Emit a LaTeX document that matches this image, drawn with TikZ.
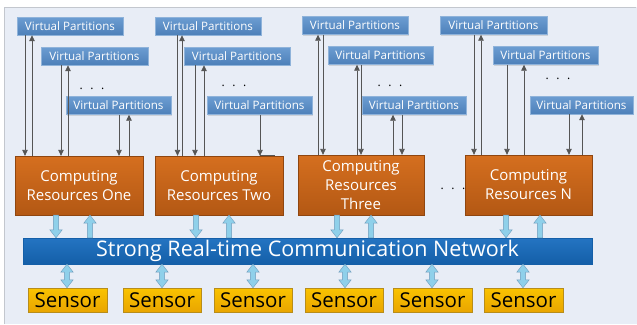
\documentclass[tikz,border=0pt]{standalone}
\usepackage{fontspec}
\setmainfont{Open Sans}
\usetikzlibrary{arrows.meta,shadows,calc}

\definecolor{bgfill}{HTML}{E8EDF6}
\definecolor{frameline}{HTML}{C3C7CE}
\definecolor{vptop}{HTML}{6C9DD2}
\definecolor{vpbot}{HTML}{4D80B9}
\definecolor{vpline}{HTML}{8FB3DA}
\definecolor{crtop}{HTML}{D56F1F}
\definecolor{crbot}{HTML}{B35814}
\definecolor{nettop}{HTML}{2474C2}
\definecolor{netbot}{HTML}{145FA8}
\definecolor{sntop}{HTML}{FAC300}
\definecolor{snbot}{HTML}{E9A500}
\definecolor{snline}{HTML}{B88D1A}
\definecolor{fatfill}{HTML}{8FD0EA}
\definecolor{fatline}{HTML}{6E9CBC}
\definecolor{wire}{HTML}{555555}

\tikzset{
  boxshadow/.style={drop shadow={opacity=0.25,shadow xshift=1.2pt,shadow yshift=-1.2pt}},
  vpbox/.style={boxshadow, top color=vptop, bottom color=vpbot, draw=vpline, line width=0.4pt,
    text=white, font=\fontsize{11.6}{12}\selectfont, inner sep=0pt, minimum height=18pt},
  crbox/.style={boxshadow, top color=crtop, bottom color=crbot, draw=crbot!80!black, line width=0.3pt,
    text=white, font=\fontsize{15}{19}\selectfont, align=center, inner sep=0pt},
  netbox/.style={boxshadow, top color=nettop, bottom color=netbot, draw=netbot, line width=0.3pt,
    text=white, font=\fontsize{21.5}{24}\selectfont, inner sep=0pt},
  snbox/.style={boxshadow, top color=sntop, bottom color=snbot, draw=snline, line width=0.4pt,
    text=black, font=\fontsize{20.5}{22}\selectfont, inner sep=0pt, minimum height=24pt},
  wirearrow/.style={draw=wire, line width=0.8pt, -{Triangle[width=5.5pt,length=6pt]}},
  wireline/.style={draw=wire, line width=0.8pt},
  fatshape/.style={fill=fatfill, draw=fatline, line width=0.4pt},
  dotstext/.style={font=\fontsize{12}{12}\selectfont, text=black, inner sep=0pt}
}

% fat vertical arrow with its head at the second point
\newcommand\fatone[2]{%
  \path[fatshape] let \p1=(#1), \p2=(#2), \n1={sign(\y2-\y1)} in
    (\x1-2.6pt,\y1) -- (\x1-2.6pt,\y2-\n1*8pt) -- (\x1-6.2pt,\y2-\n1*8pt) -- (\x1,\y2)
    -- (\x1+6.2pt,\y2-\n1*8pt) -- (\x1+2.6pt,\y2-\n1*8pt) -- (\x1+2.6pt,\y1) -- cycle;}
% fat vertical arrow with heads at both points
\newcommand\fattwo[2]{%
  \path[fatshape] let \p1=(#1), \p2=(#2), \n1={sign(\y2-\y1)} in
    (\x1,\y1) -- (\x1+6.2pt,\y1+\n1*8pt) -- (\x1+2.6pt,\y1+\n1*8pt)
    -- (\x1+2.6pt,\y2-\n1*8pt) -- (\x1+6.2pt,\y2-\n1*8pt) -- (\x1,\y2)
    -- (\x1-6.2pt,\y2-\n1*8pt) -- (\x1-2.6pt,\y2-\n1*8pt)
    -- (\x1-2.6pt,\y1+\n1*8pt) -- (\x1-6.2pt,\y1+\n1*8pt) -- cycle;}

\newcommand\threedots{.\hspace{7.5pt}.\hspace{7.5pt}.}

\begin{document}
\begin{tikzpicture}[x=1pt,y=-1pt]
  % canvas
  \useasboundingbox (0,0) rectangle (637,324);
  \fill[white] (0,0) rectangle (637,324);
  \fill[bgfill] (4,7) rectangle (637,324);
  \draw[frameline, line width=0.8pt] (4,324) -- (4,7) -- (636,7);

  % virtual partitions
  \node[vpbox, minimum width=106pt] (v1a) at (70,26)    {Virtual Partitions};
  \node[vpbox, minimum width=107pt] (v1b) at (94.5,56)  {Virtual Partitions};
  \node[vpbox, minimum width=105pt] (v1c) at (118.5,105.5) {Virtual Partitions};
  \node[vpbox, minimum width=106pt] (v2a) at (208,26)   {Virtual Partitions};
  \node[vpbox, minimum width=106pt] (v2b) at (237,56)   {Virtual Partitions};
  \node[vpbox, minimum width=105pt] (v2c) at (259.5,105.5) {Virtual Partitions};
  \node[vpbox, minimum width=106pt] (v3a) at (355,25.5) {Virtual Partitions};
  \node[vpbox, minimum width=105pt] (v3b) at (380.5,55.5) {Virtual Partitions};
  \node[vpbox, minimum width=104pt] (v3c) at (414,105.5) {Virtual Partitions};
  \node[vpbox, minimum width=107pt] (v4a) at (493.5,25.5) {Virtual Partitions};
  \node[vpbox, minimum width=105pt] (v4b) at (545.5,55.5) {Virtual Partitions};
  \node[vpbox, minimum width=103pt] (v4c) at (581.5,105) {Virtual Partitions};

  \node[dotstext] (d1) at (92,89) {\threedots};
  \node[dotstext] (d2) at (234,86) {\threedots};
  \node[dotstext] (d3) at (390,86) {\threedots};
  \node[dotstext] (d4) at (558,79) {\threedots};

  % computing resources
  \node[crbox, minimum width=128pt, minimum height=59pt] (c1) at (79,185.5)  {Computing\\Resources One};
  \node[crbox, minimum width=128pt, minimum height=59pt] (c2) at (219,185.5) {Computing\\Resources Two};
  \node[crbox, minimum width=126pt, minimum height=60pt] (c3) at (361,185)   {Computing\\Resources\\Three};
  \node[crbox, minimum width=127pt, minimum height=60pt] (c4) at (528.5,185) {Computing\\Resources N};
  \node[dotstext] (d5) at (453,189) {\threedots};

  % network
  \node[netbox, minimum width=569pt, minimum height=26pt] (net) at (307.5,251)
    {Strong Real-time Communication Network};

  % sensors
  \node[snbox, minimum width=79pt] (s1) at (67.5,300)  {Sensor};
  \node[snbox, minimum width=78pt] (s2) at (162,300)   {Sensor};
  \node[snbox, minimum width=78pt] (s3) at (253,300)   {Sensor};
  \node[snbox, minimum width=78pt] (s4) at (344,300)   {Sensor};
  \node[snbox, minimum width=79pt] (s5) at (432.5,300) {Sensor};
  \node[snbox, minimum width=79pt] (s6) at (523.5,300) {Sensor};

  % partitions <-> computing resources
  \draw[wirearrow] (v1a.south -| 25,0)  -- (c1.north -| 25,0);
  \draw[wirearrow] (c1.north -| 32,0)   -- (v1a.south -| 32,0);
  \draw[wirearrow] (v1b.south -| 61,0)  -- (c1.north -| 61,0);
  \draw[wirearrow] (c1.north -| 68,0)   -- (v1b.south -| 68,0);
  \draw[wirearrow] (v1c.south -| 119,0) -- (c1.north -| 119,0);
  \draw[wirearrow] (c1.north -| 129,0)  -- (v1c.south -| 129,0);

  \draw[wirearrow] (v2a.south -| 177.5,0) -- (c2.north -| 177.5,0);
  \draw[wirearrow] (c2.north -| 182,0)  -- (v2a.south -| 182,0);
  \draw[wirearrow] (v2b.south -| 195,0) -- (c2.north -| 195,0);
  \draw[wirearrow] (c2.north -| 204,0)  -- (v2b.south -| 204,0);
  \draw[wirearrow] (v2c.south -| 260,0) -- (c2.north -| 260,0);
  \coordinate (c2stub) at ($(c2.north -| 275,0)+(0,-0.5)$);
  \draw[wireline] ($(c2.north -| 260,0)+(0,-0.5)$) -- (c2stub);

  \draw[wirearrow] (c3.north -| 318,0)  -- (v3a.south -| 318,0);
  \draw[wirearrow] (v3a.south -| 323,0) -- (c3.north -| 323,0);
  \draw[wirearrow] (c3.north -| 357,0)  -- (v3b.south -| 357,0);
  \draw[wirearrow] (v3b.south -| 361,0) -- (c3.north -| 361,0);
  \draw[wirearrow] (c3.north -| 393,0)  -- (v3c.south -| 393,0);
  \draw[wirearrow] (v3c.south -| 402,0) -- (c3.north -| 402,0);

  \draw[wirearrow] (v4a.south -| 474,0) -- (c4.north -| 474,0);
  \draw[wirearrow] (c4.north -| 481,0)  -- (v4a.south -| 481,0);
  \draw[wirearrow] (v4b.south -| 507,0) -- (c4.north -| 507,0);
  \draw[wirearrow] (c4.north -| 524,0)  -- (v4b.south -| 524,0);
  \draw[wirearrow] (v4c.south -| 569,0) -- (c4.north -| 569,0);
  \draw[wirearrow] (c4.north -| 582,0)  -- (v4c.south -| 582,0);

  % computing resources <-> network
  \fatone{c1.south -| 56,0}{net.north -| 56,0}
  \fatone{net.north -| 90,0}{c1.south -| 90,0}
  \fatone{c2.south -| 196,0}{net.north -| 196,0}
  \fatone{net.north -| 229,0}{c2.south -| 229,0}
  \fatone{c3.south -| 337,0}{net.north -| 337,0}
  \fatone{net.north -| 371,0}{c3.south -| 371,0}
  \fatone{c4.south -| 506,0}{net.north -| 506,0}
  \fatone{net.north -| 540,0}{c4.south -| 540,0}

  % network <-> sensors
  \fattwo{net.south -| 67,0}{s1.north -| 67,0}
  \fattwo{net.south -| 162,0}{s2.north -| 162,0}
  \fattwo{net.south -| 253,0}{s3.north -| 253,0}
  \fattwo{net.south -| 345,0}{s4.north -| 345,0}
  \fattwo{net.south -| 432,0}{s5.north -| 432,0}
  \fattwo{net.south -| 523,0}{s6.north -| 523,0}
\end{tikzpicture}
\end{document}
